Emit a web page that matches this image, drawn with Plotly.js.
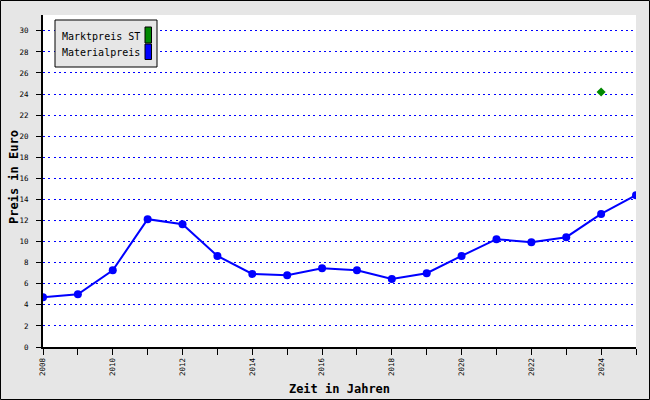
<!DOCTYPE html>
<html><head><meta charset="utf-8">
<script src="https://cdn.plot.ly/plotly-3.0.1.min.js"></script>
<style>html,body{margin:0;padding:0;background:#e6e6e6;}#chart{width:650px;height:400px;}</style>
</head><body><div id="chart"></div>
<script>
const years = [2008,2009,2010,2011,2012,2013,2014,2015,2016,2017,2018,2019,2020,2021,2022,2023,2024,2025];
const materialpreis = [4.72,5.0,7.28,12.13,11.65,8.64,6.93,6.81,7.47,7.28,6.46,7.0,8.64,10.23,9.94,10.42,12.63,14.4];
const marktYears = [2024];
const marktpreisST = [24.19];
const seriesNames = ["Marktpreis ST","Materialpreis"];
const seriesColors = ["#008800","#0000ff"];
const xTickVals = [2008,2010,2012,2014,2016,2018,2020,2022,2024];
const yTickVals = [0,2,4,6,8,10,12,14,16,18,20,22,24,26,28,30];

const W=650,H=400,L=43,R=14,T=15,B=53;
const pw=W-L-R, ph=H-T-B;
const px=x=>(x-L)/pw, py=y=>(H-B-y)/ph;

const mono = "DejaVu Sans Mono, Liberation Mono, monospace";

const traces = [
  {x: marktYears, y: marktpreisST, name: seriesNames[0], mode:'markers', type:'scatter',
   marker:{symbol:'diamond', size:7, color:seriesColors[0]}},
  {x: years, y: materialpreis, name: seriesNames[1], mode:'lines+markers', type:'scatter',
   line:{color:seriesColors[1], width:2}, marker:{symbol:'circle', size:8, color:seriesColors[1]}}
];

const shapes = [
  {type:'rect', xref:'paper', yref:'paper', x0:px(0.5), x1:px(649.5), y0:py(399.5), y1:py(0.5), line:{color:'#000', width:1}, fillcolor:'rgba(0,0,0,0)'},
  {type:'rect', xref:'paper', yref:'paper', x0:px(55), x1:px(157), y0:py(67), y1:py(20), line:{color:'#000', width:1}, fillcolor:'#e6e6e6'},
  {type:'rect', xref:'paper', yref:'paper', x0:px(145), x1:px(151.5), y0:py(43), y1:py(27), line:{color:'#000', width:1}, fillcolor:seriesColors[0]},
  {type:'rect', xref:'paper', yref:'paper', x0:px(145), x1:px(151.5), y0:py(59.5), y1:py(44), line:{color:'#000', width:1}, fillcolor:seriesColors[1]}
];
const annotations = [
  {xref:'paper', yref:'paper', x:px(60), y:py(36), xanchor:'left', yanchor:'middle', showarrow:false, text:seriesNames[0], font:{family:mono, size:10, color:'#000'}},
  {xref:'paper', yref:'paper', x:px(60), y:py(53), xanchor:'left', yanchor:'middle', showarrow:false, text:seriesNames[1], font:{family:mono, size:10, color:'#000'}},
  {xref:'paper', yref:'paper', x:px(14), y:py(177), xanchor:'center', yanchor:'middle', showarrow:false, textangle:-90, text:'<b>Preis in Euro</b>', font:{family:mono, size:12, color:'#000'}}
];

const layout = {
  width:W, height:H, margin:{l:L, r:R, t:T, b:B, pad:0},
  paper_bgcolor:'#e6e6e6', plot_bgcolor:'#ffffff',
  showlegend:false,
  font:{family:mono, color:'#000'},
  xaxis:{range:[2008,2025], tickmode:'array', tickvals:xTickVals, ticktext:xTickVals.map(String),
    tickangle:-90, tickfont:{family:mono, size:7.5}, ticks:'outside', ticklen:6, tickcolor:'#000', tickwidth:1,
    minor:{tickmode:'array', tickvals:years, ticks:'outside', ticklen:6, tickcolor:'#000', showgrid:false},
    showgrid:false, zeroline:false, showline:true, linecolor:'#000', linewidth:2,
    title:{text:'<b>Zeit in Jahren</b>', font:{family:mono, size:12}, standoff:10}},
  yaxis:{range:[0,31.5], tickmode:'array', tickvals:yTickVals, ticktext:yTickVals.map(String),
    tickfont:{family:mono, size:7.5}, ticks:'outside', ticklen:5, tickcolor:'#000', tickwidth:1, ticklabelstandoff:6,
    showgrid:true, gridcolor:'#0000ff', griddash:'2px,3.3px', gridwidth:1,
    zeroline:false, showline:true, linecolor:'#000', linewidth:2},
  shapes:shapes, annotations:annotations
};
Plotly.newPlot('chart', traces, layout, {displayModeBar:false, staticPlot:true});
</script></body></html>
